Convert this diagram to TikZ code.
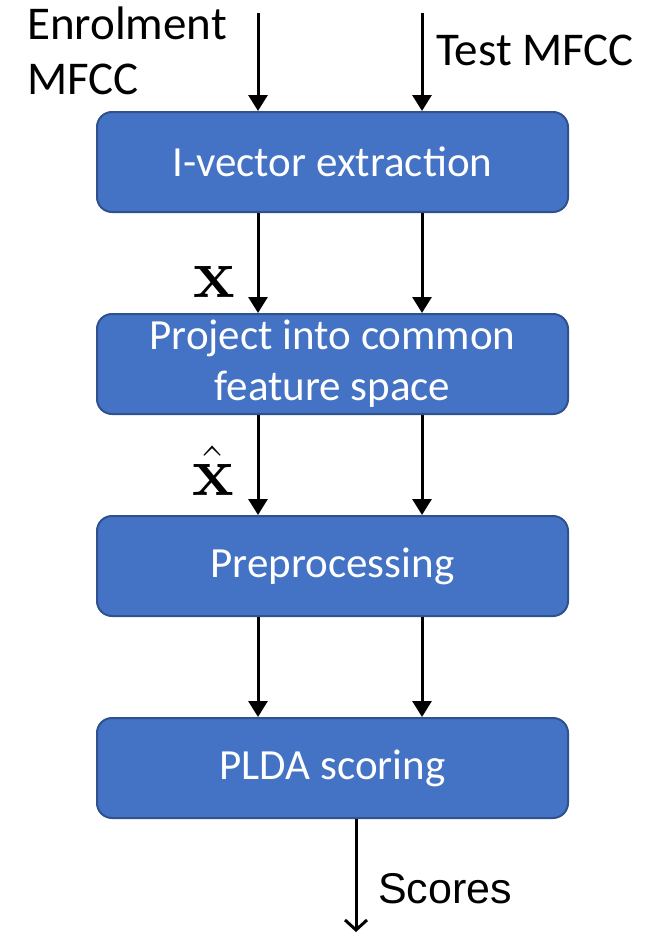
\documentclass[tikz,border=0pt]{standalone}
\usepackage{fix-cm}
\usepackage{amsmath}
\usepackage[no-math]{fontspec}
\setmainfont{Carlito}
\newfontfamily\arialfont{Liberation Sans}
\usetikzlibrary{positioning,arrows.meta,calc}

\definecolor{boxblue}{HTML}{4472C4}
\definecolor{boxedge}{HTML}{2F528F}

\begin{document}
\begin{tikzpicture}[
  x=1pt, y=1pt,
  >={Triangle[length=16pt, width=19pt]},
  node distance=100pt,
  stage/.style={draw=boxedge, line width=2pt, fill=boxblue, rounded corners=15pt,
                text=white, align=center, minimum width=471pt, minimum height=100pt,
                inner sep=0pt, font=\fontsize{43}{51}\selectfont},
  arr/.style={->, line width=3pt, black},
  lbl/.style={inner sep=0pt, font=\fontsize{47}{55}\selectfont},
  vlbl/.style={inner sep=0pt, font=\fontsize{70}{80}\selectfont},
]
\useasboundingbox (0,0) rectangle (658,-934);

%% ---------- processing stages ----------
\node[stage] (ivec) at (332.5,-162) {I-vector extraction};
\node[stage, below=of ivec] (proj) {Project into common\\ feature space};
\node[stage, below=of proj] (prep) {Preprocessing};
\node[stage, below=of prep] (plda) {PLDA scoring};

%% ---------- the two streams ----------
\coordinate (enr)  at (258,-13);
\coordinate (test) at (422,-13);
\coordinate (out)  at (356,-932);

\node[lbl, anchor=north west, align=left] (enrlbl) at (27,-7) {Enrolment\\ MFCC};
\node[lbl, anchor=base west] (testlbl) at (436,-66) {Test MFCC};

\draw[arr] (enr)  -- (enr |- ivec.north);
\draw[arr] (test) -- (test |- ivec.north);
\foreach \a/\b in {ivec/proj, proj/prep, prep/plda}{
  \draw[arr] (enr |- \a.south)  -- (enr |- \b.north);
  \draw[arr] (test |- \a.south) -- (test |- \b.north);
}

\node[vlbl, anchor=base] (xlbl)    at (214,-297) {$\mathbf{x}$};
\node[vlbl, anchor=base] (xhatlbl) at (213,-495) {$\hat{\mathbf{x}}$};

%% ---------- output ----------
\draw[line width=3pt, -{Straight Barb[length=10pt, width=22pt]}] (out |- plda.south) -- (out);
\node[lbl, anchor=base west, font=\arialfont\fontsize{43}{48}\selectfont] (scores) at (378,-903) {Scores};

\end{tikzpicture}
\end{document}
